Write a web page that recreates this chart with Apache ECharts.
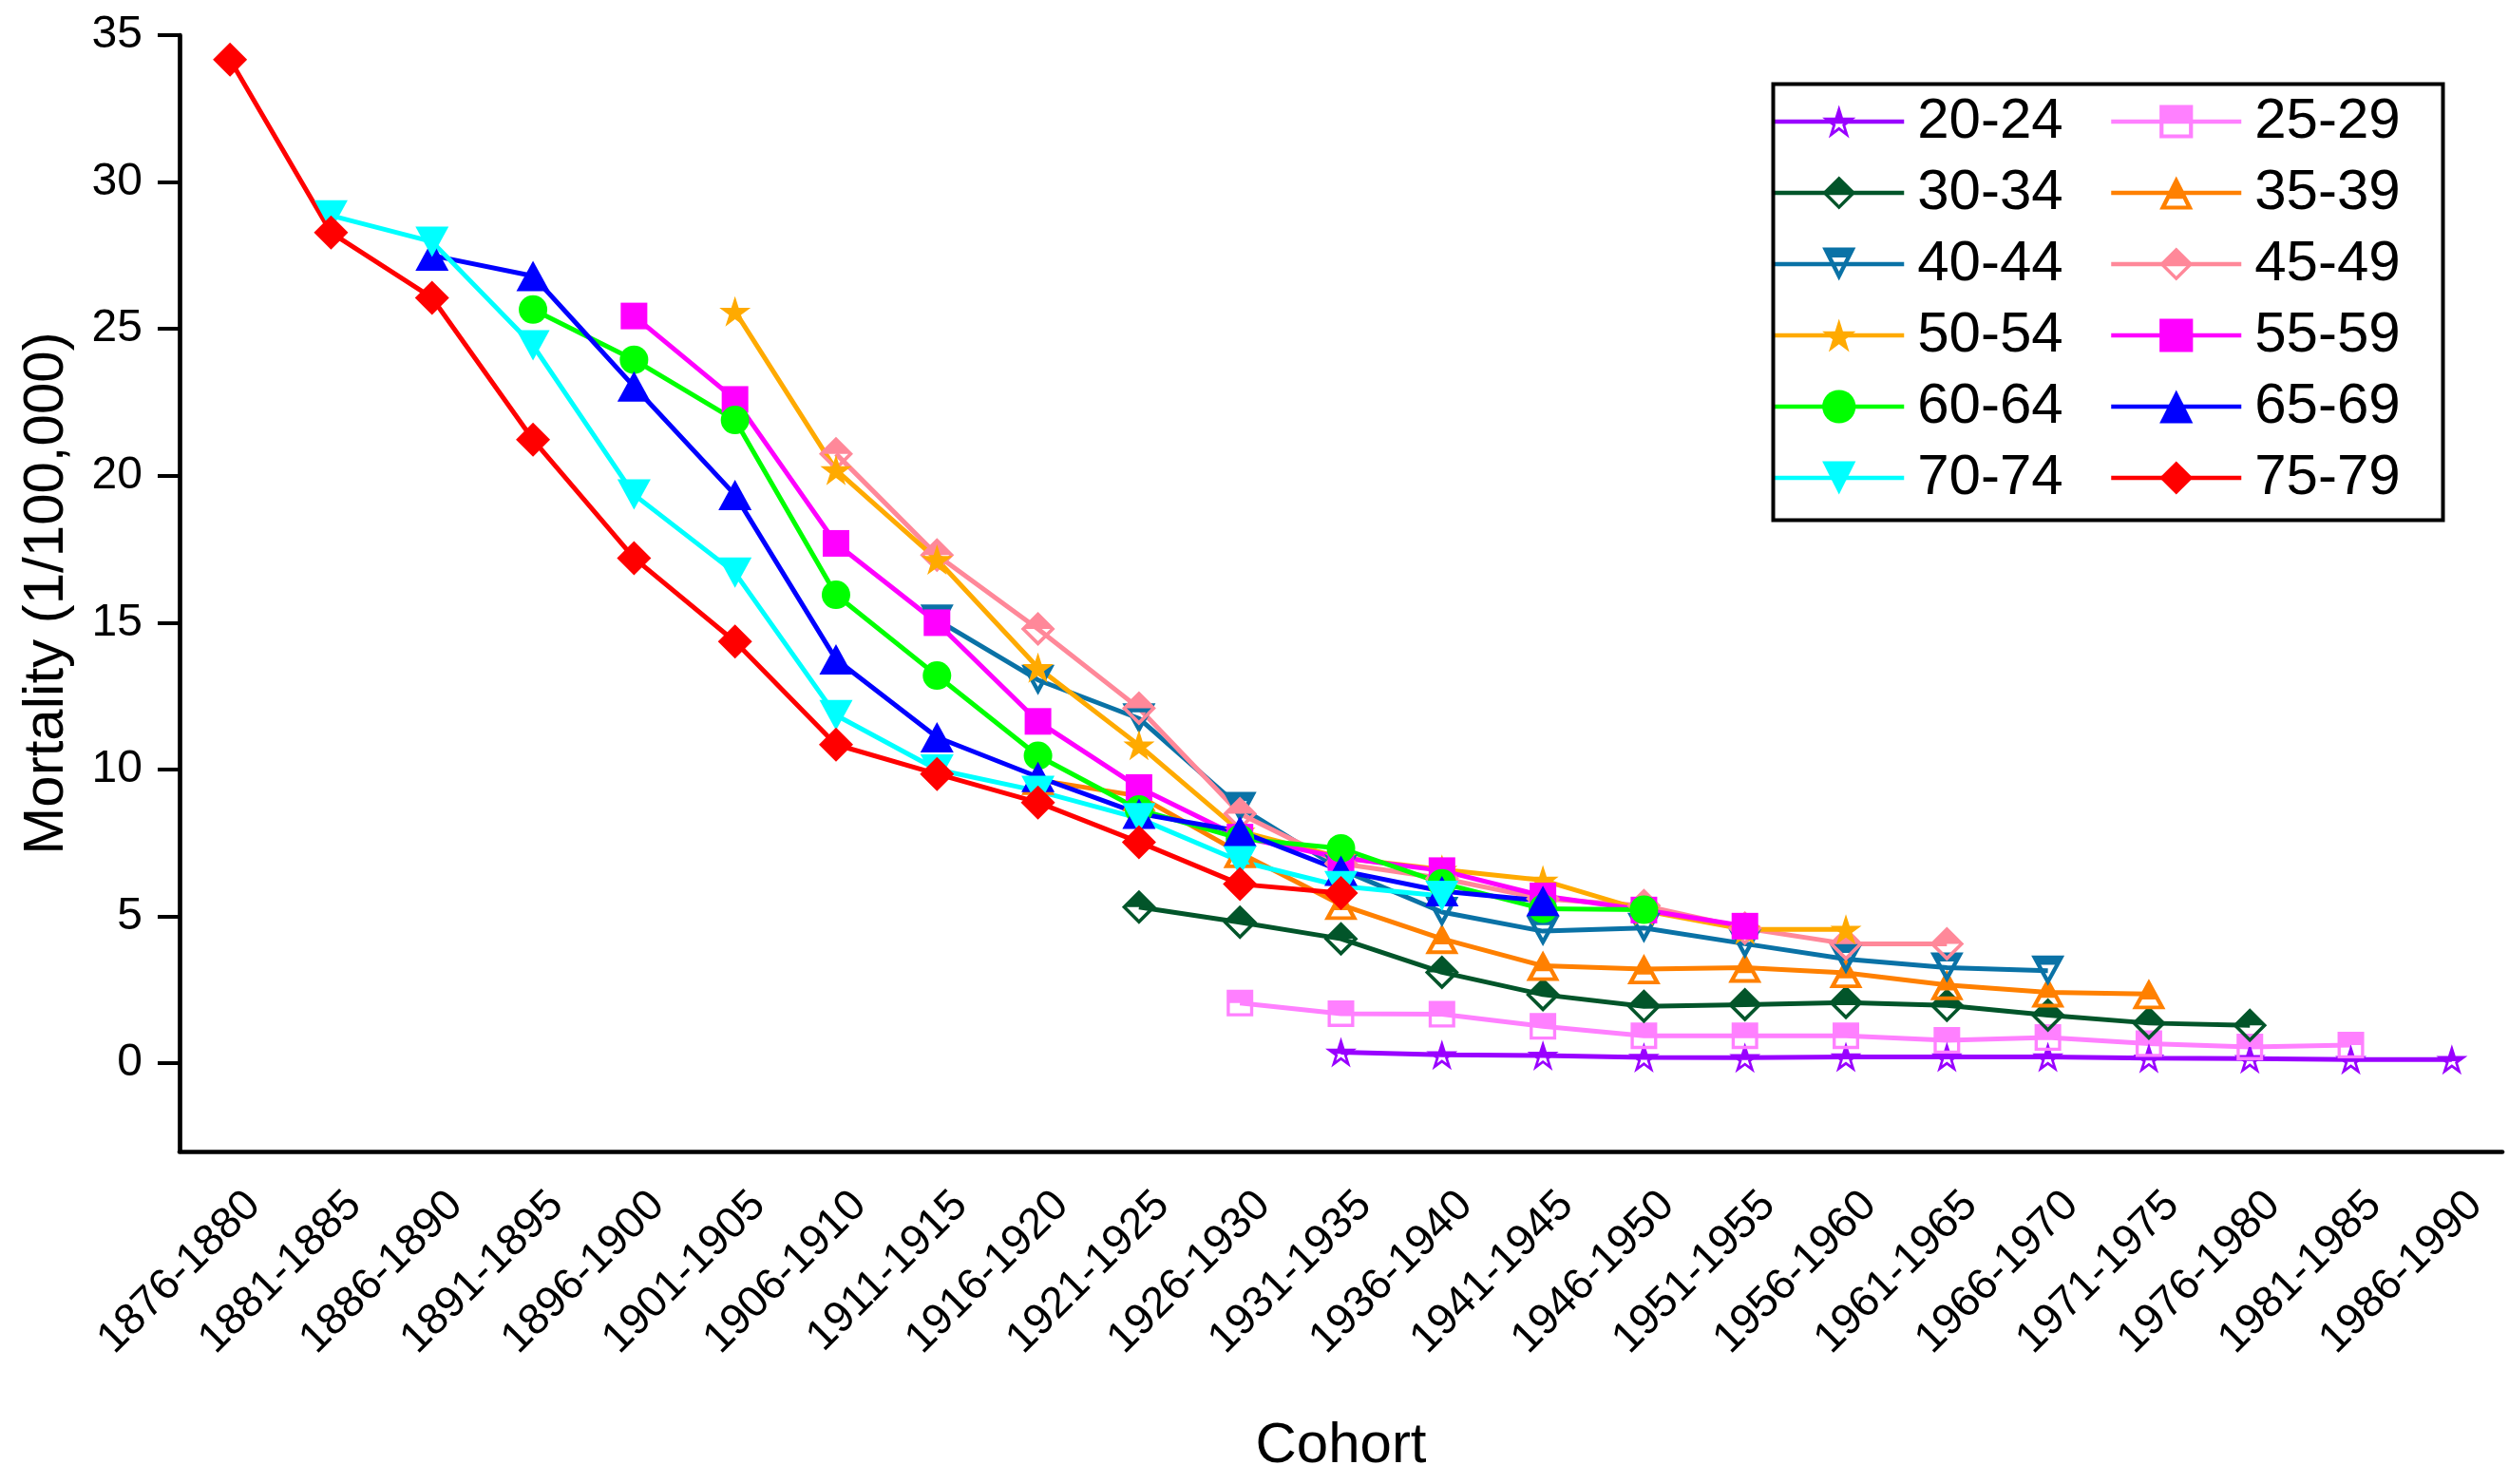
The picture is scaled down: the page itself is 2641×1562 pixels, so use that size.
<!DOCTYPE html>
<html>
<head>
<meta charset="utf-8">
<script src="https://cdn.jsdelivr.net/npm/echarts@6/dist/echarts.min.js"></script>
<style>
html,body{margin:0;padding:0;background:#fff;}
#chart{width:2641px;height:1562px;}
</style>
</head>
<body>
<div id="chart"></div>
<script>
const categories = ['1876-1880','1881-1885','1886-1890','1891-1895','1896-1900','1901-1905','1906-1910','1911-1915','1916-1920','1921-1925','1926-1930','1931-1935','1936-1940','1941-1945','1946-1950','1951-1955','1956-1960','1961-1965','1966-1970','1971-1975','1976-1980','1981-1985','1986-1990'];
const yTicks = [0, 5, 10, 15, 20, 25, 30, 35];
const seriesNames = ['20-24','25-29','30-34','35-39','40-44','45-49','50-54','55-59','60-64','65-69','70-74','75-79'];

const s20_24 = [null,null,null,null,null,null,null,null,null,null,null,0.38,0.29,0.27,0.2,0.19,0.22,0.22,0.22,0.18,0.16,0.13,0.13];
const s25_29 = [null,null,null,null,null,null,null,null,null,null,2.05,1.69,1.67,1.26,0.94,0.94,0.94,0.78,0.88,0.67,0.56,0.62,null];
const s30_34 = [null,null,null,null,null,null,null,null,null,5.32,4.8,4.24,3.1,2.34,1.94,2.0,2.07,1.97,1.64,1.37,1.29,null,null];
const s35_39 = [null,null,null,null,null,null,null,null,9.65,9.1,7.16,5.4,4.24,3.32,3.21,3.26,3.08,2.67,2.42,2.36,null,null,null];
const s40_44 = [null,null,null,null,null,null,null,15.1,13.05,11.74,8.72,6.6,5.15,4.5,4.61,4.07,3.55,3.26,3.15,null,null,null,null];
const s45_49 = [null,null,null,null,null,null,20.75,17.3,14.79,12.09,8.5,6.8,6.3,5.6,5.37,4.6,4.07,4.07,null,null,null,null,null];
const s50_54 = [null,null,null,null,null,25.6,20.2,17.15,13.47,10.83,7.9,7.0,6.6,6.23,5.2,4.56,4.56,null,null,null,null,null,null];
const s55_59 = [null,null,null,null,25.44,22.6,17.7,15.0,11.64,9.39,7.7,7.0,6.56,5.7,5.22,4.67,null,null,null,null,null,null,null];
const s60_64 = [null,null,null,25.66,23.95,21.9,15.95,13.2,10.47,8.64,7.65,7.32,6.13,5.26,5.23,null,null,null,null,null,null,null,null];
const s65_69 = [null,null,27.5,26.8,23.04,19.35,13.75,11.1,9.75,8.5,7.9,6.56,5.86,5.53,null,null,null,null,null,null,null,null,null];
const s70_74 = [null,28.86,27.97,24.44,19.36,16.7,11.85,10.0,9.27,8.34,6.88,6.03,5.7,null,null,null,null,null,null,null,null,null,null];
const s75_79 = [34.17,28.28,26.06,21.23,17.2,14.36,10.85,9.85,8.88,7.53,6.1,5.8,null,null,null,null,null,null,null,null,null,null,null];

const seriesData = [s20_24,s25_29,s30_34,s35_39,s40_44,s45_49,s50_54,s55_59,s60_64,s65_69,s70_74,s75_79];
const colors = ['#9900ff','#ff80ff','#02552a','#ff8000','#0a72a6','#ff8899','#ffaa00','#ff00ff','#00ff00','#0000ff','#00ffff','#ff0000'];

// marker shapes (half-filled: top filled, bottom outlined)
const STAR = 'M50 0 L61.23 34.55 L97.55 34.55 L68.17 55.9 L79.39 90.45 L50 69.1 L20.61 90.45 L31.83 55.9 L2.45 34.55 L38.77 34.55 Z';
const HALF_STAR = 'path://' + STAR +
  ' M50 25 L44.39 42.28 L26.23 42.28 L40.92 52.95 L35.30 70.23 L50 59.55 L64.70 70.23 L59.09 52.95 L73.78 42.28 L55.62 42.28 Z' +
  ' M50 0 L61.23 34.55 L97.55 34.55 L76.29 50 L23.71 50 L2.45 34.55 L38.77 34.55 Z';
const HALF_SQUARE = 'path://M0 0 L100 0 L100 50 L0 50 Z M0 50 L0 100 L100 100 L100 50 L88 50 L88 88 L12 88 L12 50 Z';
const HALF_DIAMOND = 'path://M0 50 L50 0 L100 50 Z M0 50 L50 100 L100 50 L86 50 L50 86 L14 50 Z';
const HALF_TRI_UP = 'path://M50 0 L84 68 L16 68 Z M16 68 L0 100 L100 100 L84 68 L70 68 L80 88 L20 88 L30 68 Z';
const HALF_TRI_DOWN = 'path://M0 0 L100 0 L85 30 L15 30 Z M15 30 L50 100 L85 30 L71 30 L50 72 L29 30 Z';

const symbols = [HALF_STAR, HALF_SQUARE, HALF_DIAMOND, HALF_TRI_UP, HALF_TRI_DOWN, HALF_DIAMOND,
  'path://' + STAR, 'rect', 'circle', 'triangle', 'triangle', 'diamond'];
const symbolRotates = [0,0,0,0,0,0,0,0,0,0,180,0];
const symbolSizes = [[33,32],28,36,[35,32],[35,32],36,[33,32],28,30,[35,32],[35,32],36];

const FONT = "'Liberation Sans', Arial, sans-serif";

const chart = echarts.init(document.getElementById('chart'), null, {renderer: 'canvas'});

const series = seriesNames.map((name, i) => ({
  name: name,
  type: 'line',
  data: seriesData[i],
  symbol: symbols[i],
  symbolSize: symbolSizes[i],
  symbolRotate: symbolRotates[i],
  showAllSymbol: true,
  lineStyle: {color: colors[i], width: 5},
  itemStyle: {color: colors[i]},
  emphasis: {disabled: true},
  animation: false
}));

const legendCommon = {
  orient: 'vertical',
  top: 98,
  padding: 0,
  itemWidth: 137,
  itemHeight: 44,
  itemGap: 15,
  selectedMode: false,
  lineStyle: {width: 4.5},
  textStyle: {fontSize: 60, lineHeight: 60, color: '#000', fontFamily: FONT, padding: [0,0,0,9]}
};

chart.setOption({
  backgroundColor: '#fff',
  animation: false,
  textStyle: {fontFamily: FONT},
  grid: {left: 189, right: 7, top: 37, bottom: 350},
  legend: [
    Object.assign({}, legendCommon, {left: 1865, data: ['20-24','30-34','40-44','50-54','60-64','70-74']}),
    Object.assign({}, legendCommon, {left: 2220, data: ['25-29','35-39','45-49','55-59','65-69','75-79']})
  ],
  graphic: [{
    type: 'rect',
    left: 1864, top: 86,
    shape: {width: 705, height: 459},
    style: {fill: 'none', stroke: '#000', lineWidth: 4},
    z: 100
  }],
  xAxis: {
    type: 'category',
    data: categories,
    boundaryGap: true,
    name: 'Cohort',
    nameLocation: 'middle',
    nameGap: 280,
    nameTextStyle: {fontSize: 60, color: '#000', fontFamily: FONT},
    axisLine: {onZero: false, lineStyle: {color: '#000', width: 4.7}},
    axisTick: {alignWithLabel: true, length: 22, lineStyle: {color: '#000', width: 4}},
    axisLabel: {interval: 0, rotate: 45, fontSize: 46, color: '#000', margin: 25,
      align: 'right', verticalAlign: 'top', lineHeight: 70, fontFamily: FONT},
    splitLine: {show: false}
  },
  yAxis: {
    type: 'value',
    min: -3,
    max: 35,
    name: 'Mortality (1/100,000)',
    nameLocation: 'middle',
    nameGap: 110,
    nameTextStyle: {fontSize: 60, color: '#000', fontFamily: FONT},
    axisLine: {show: true, lineStyle: {color: '#000', width: 4.7}},
    axisTick: {show: true, length: 23, customValues: yTicks, lineStyle: {color: '#000', width: 4}},
    axisLabel: {customValues: yTicks, fontSize: 48, color: '#000', margin: 39, fontFamily: FONT},
    splitLine: {show: false}
  },
  series: series
});
</script>
</body>
</html>
